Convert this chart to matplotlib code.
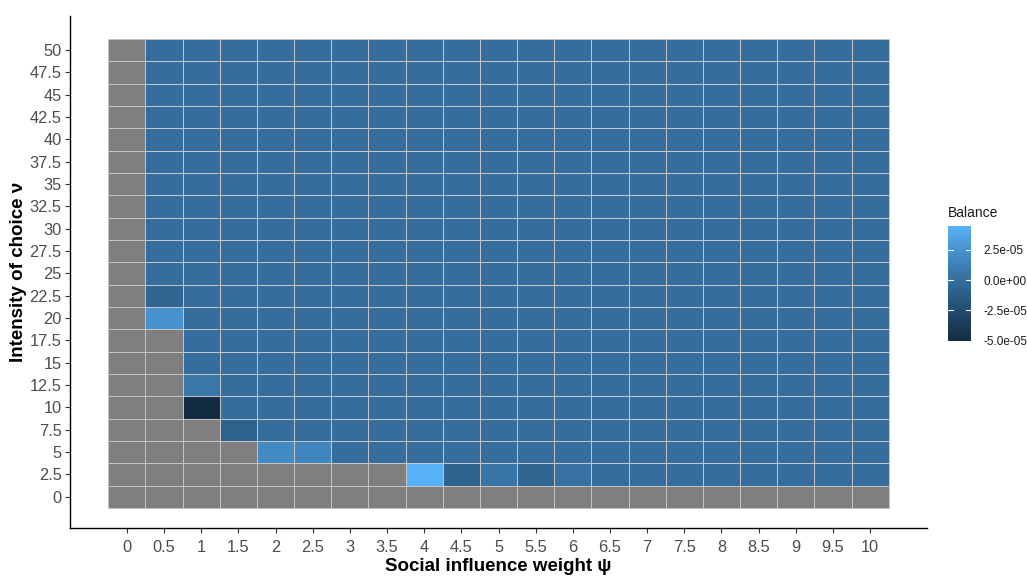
import numpy as np
import matplotlib
matplotlib.use("Agg")
import matplotlib.pyplot as plt
from matplotlib.colors import ListedColormap, Normalize

plt.rcParams['font.family'] = ['Liberation Sans', 'DejaVu Sans']

# grid axes
psi_vals = [0, 0.5, 1, 1.5, 2, 2.5, 3, 3.5, 4, 4.5, 5, 5.5, 6, 6.5, 7, 7.5, 8, 8.5, 9, 9.5, 10]
nu_vals = [0, 2.5, 5, 7.5, 10, 12.5, 15, 17.5, 20, 22.5, 25, 27.5, 30, 32.5, 35,
           37.5, 40, 42.5, 45, 47.5, 50]
psi_labels = ['0', '0.5', '1', '1.5', '2', '2.5', '3', '3.5', '4', '4.5', '5', '5.5',
              '6', '6.5', '7', '7.5', '8', '8.5', '9', '9.5', '10']
nu_labels = ['0', '2.5', '5', '7.5', '10', '12.5', '15', '17.5', '20', '22.5', '25', '27.5',
             '30', '32.5', '35', '37.5', '40', '42.5', '45', '47.5', '50']

# smallest psi with a defined balance, per nu row (None = whole row missing)
first_psi = [None, 4, 2, 1.5, 1, 1, 1, 1, 0.5, 0.5, 0.5, 0.5, 0.5, 0.5, 0.5,
             0.5, 0.5, 0.5, 0.5, 0.5, 0.5]

# cells that differ from zero balance: (psi, nu, balance)
balance_cells = [
    (0.5, 22.5, -6.0e-06),
    (0.5, 20, 2.5e-05),
    (1, 12.5, 6.0e-06),
    (1, 10, -5.02e-05),
    (1.5, 7.5, -8.0e-06),
    (2, 5, 1.9e-05),
    (2.5, 5, 1.6e-05),
    (4, 2.5, 4.45e-05),
    (4.5, 2.5, -8.0e-06),
    (5, 2.5, 5.0e-06),
    (5.5, 2.5, -6.0e-06),
    (6, 2.5, 2.0e-06),
]


def srgb_to_lab(rgb):
    rgb = np.asarray(rgb, float)
    lin = np.where(rgb <= 0.04045, rgb / 12.92, ((rgb + 0.055) / 1.055) ** 2.4)
    m = np.array([[0.4124, 0.3576, 0.1805],
                  [0.2126, 0.7152, 0.0722],
                  [0.0193, 0.1192, 0.9505]])
    xyz = m @ lin / np.array([0.95047, 1.0, 1.08883])
    f = np.where(xyz > 0.008856, np.cbrt(xyz), 7.787 * xyz + 16 / 116)
    return np.array([116 * f[1] - 16, 500 * (f[0] - f[1]), 200 * (f[1] - f[2])])


def lab_to_srgb(lab):
    L, a, b = lab
    fy = (L + 16) / 116
    fx = fy + a / 500
    fz = fy - b / 200
    f = np.array([fx, fy, fz])
    xyz = np.where(f ** 3 > 0.008856, f ** 3, (f - 16 / 116) / 7.787)
    xyz = xyz * np.array([0.95047, 1.0, 1.08883])
    m = np.array([[3.2406, -1.5372, -0.4986],
                  [-0.9689, 1.8758, 0.0415],
                  [0.0557, -0.2040, 1.0570]])
    lin = m @ xyz
    rgb = np.where(lin <= 0.0031308, 12.92 * lin, 1.055 * np.clip(lin, 0, None) ** (1 / 2.4) - 0.055)
    return np.clip(rgb, 0, 1)


# blue gradient interpolated in Lab space
low = srgb_to_lab(np.array([0x13, 0x2B, 0x43]) / 255)
high = srgb_to_lab(np.array([0x56, 0xB1, 0xF7]) / 255)
cmap = ListedColormap([lab_to_srgb(low + (high - low) * t) for t in np.linspace(0, 1, 256)])
cmap.set_bad('#7F7F7F')

nx, ny = len(psi_vals), len(nu_vals)
grid = np.full((ny, nx), np.nan)
for j, start in enumerate(first_psi):
    if start is None:
        continue
    for i, p in enumerate(psi_vals):
        if p >= start:
            grid[j, i] = 0.0
for p, n, v in balance_cells:
    grid[nu_vals.index(n), psi_vals.index(p)] = v

vmin, vmax = -5.02e-05, 4.45e-05
norm = Normalize(vmin, vmax)

W, H = 1027, 576
fig = plt.figure(figsize=(W / 100, H / 100), dpi=100)
ax = fig.add_axes([70 / W, (H - 528) / H, (927 - 70) / W, (528 - 16) / H])

mesh = ax.pcolormesh(np.arange(nx + 1) - 0.5, np.arange(ny + 1) - 0.5,
                     np.ma.masked_invalid(grid), cmap=cmap, norm=norm,
                     edgecolors='#C4C4C4', linewidth=0.5)
ax.set_xlim(-1.53, nx - 1 + 1.53)
ax.set_ylim(-1.40, ny - 1 + 1.53)

ax.set_xticks(range(nx))
ax.set_xticklabels(psi_labels)
ax.set_yticks(range(ny))
ax.set_yticklabels(nu_labels)
ax.tick_params(labelsize=11.8, labelcolor='#4D4D4D', color='#333333', length=3.5, width=0.8)
ax.tick_params(axis='y', pad=2.5)
ax.tick_params(axis='x', pad=5)
for side in ['top', 'right']:
    ax.spines[side].set_visible(False)
for side in ['left', 'bottom']:
    ax.spines[side].set_linewidth(1.0)
    ax.spines[side].set_color('black')

ax.set_xlabel('Social influence weight ψ', fontsize=13.5, fontweight='bold', labelpad=2)
ax.set_ylabel('Intensity of choice ν', fontsize=13.5, fontweight='bold', labelpad=2)

# colour bar legend
cax = fig.add_axes([948 / W, (H - 341) / H, 23 / W, 115 / H])
cb = fig.colorbar(mesh, cax=cax)
cb.outline.set_visible(False)
cb_ticks = [-5.0e-05, -2.5e-05, 0.0, 2.5e-05]
cb.set_ticks(cb_ticks)
cb.set_ticklabels(['-5.0e-05', '-2.5e-05', '0.0e+00', '2.5e-05'])
cax.tick_params(labelsize=8.5, labelcolor='#1A1A1A', length=0, pad=9)
for t in cb_ticks:
    cax.plot([0, 0.2], [t, t], color='white', lw=0.8, transform=cax.get_yaxis_transform())
    cax.plot([0.8, 1], [t, t], color='white', lw=0.8, transform=cax.get_yaxis_transform())
fig.text(948 / W, (H - 213) / H, 'Balance', fontsize=10, va='center', ha='left', color='#1A1A1A')

fig.savefig('out.png', dpi=100)
